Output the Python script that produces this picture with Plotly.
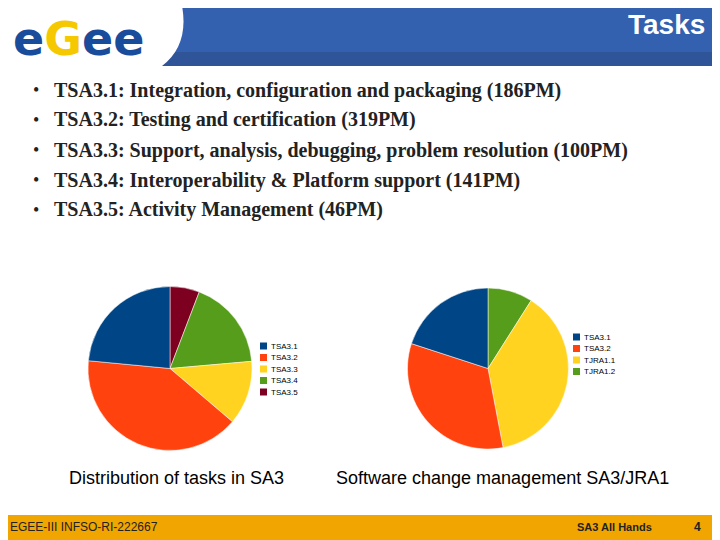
import plotly.graph_objects as go

# ----------- data ----------- ##
TASK_LABELS = ["TSA3.1", "TSA3.2", "TSA3.3", "TSA3.4", "TSA3.5"]
TASK_PM = [186, 319, 100, 141, 46]
TASK_TEXT = [
    "TSA3.1: Integration, configuration and packaging (186PM)",
    "TSA3.2: Testing and certification (319PM)",
    "TSA3.3: Support, analysis, debugging, problem resolution (100PM)",
    "TSA3.4: Interoperability & Platform support (141PM)",
    "TSA3.5: Activity Management (46PM)",
]
SCM_LABELS = ["TSA3.1", "TSA3.2", "TJRA1.1", "TJRA1.2"]
SCM_SHARE = [20, 33, 38, 9]

COLORS = ["#004586", "#FF420E", "#FFD320", "#579D1C", "#7E0021"]

W, H, OFF = 720, 540, 8  # page body margin shifts the plot by 8px


def px(x):
    return (x - OFF) / W


def py(y):
    return 1 - (y - OFF) / H


fig = go.Figure()

# reference slices run counterclockwise from 12 o'clock -> reversed order, clockwise
fig.add_trace(go.Pie(
    labels=TASK_LABELS[::-1], values=TASK_PM[::-1], sort=False, direction="clockwise",
    marker=dict(colors=COLORS[:5][::-1], line=dict(color="white", width=0.5)),
    textinfo="none", hoverinfo="label+value", showlegend=False,
    domain=dict(x=[px(88), px(252)], y=[py(451), py(286)]),
))
fig.add_trace(go.Pie(
    labels=SCM_LABELS[::-1], values=SCM_SHARE[::-1], sort=False, direction="clockwise",
    marker=dict(colors=COLORS[:4][::-1], line=dict(color="white", width=0.5)),
    textinfo="none", hoverinfo="label+percent", showlegend=False,
    domain=dict(x=[px(407), px(569)], y=[py(449), py(288)]),
))

shapes = [
    dict(type="rect", xref="paper", yref="paper", x0=-0.1, x1=1.1, y0=py(52), y1=1.1,
         fillcolor="#3460B0", line_width=0, layer="below"),
    dict(type="rect", xref="paper", yref="paper", x0=-0.1, x1=1.1, y0=py(66), y1=py(52),
         fillcolor="#2F5497", line_width=0, layer="below"),
    dict(type="path", xref="paper", yref="paper",
         path=f"M -0.1 1.1 L {px(162)} 1.1 Q {px(205)} {py(33)} {px(162)} {py(66)} L -0.1 {py(66)} Z",
         fillcolor="white", line_width=0, layer="below"),
    dict(type="rect", xref="paper", yref="paper", x0=-0.1, x1=1.1, y0=-0.1, y1=py(515),
         fillcolor="#F0A500", line_width=0, layer="below"),
]

ann = [
    dict(text="<b>e<span style='color:#F5C800'>G</span>ee</b>", x=px(11), y=py(39),
         font=dict(family="DejaVu Sans", size=46, color="#1A4C9C"), xanchor="left"),
    dict(text="<b>Tasks</b>", x=px(707), y=py(24), xanchor="right",
         font=dict(family="Liberation Sans", size=28, color="white")),
    dict(text="Distribution of tasks in SA3", x=px(176), y=py(478),
         font=dict(family="Liberation Sans", size=18, color="black")),
    dict(text="Software change management SA3/JRA1", x=px(502), y=py(478),
         font=dict(family="Liberation Sans", size=18, color="black")),
    dict(text="EGEE-III INFSO-RI-222667", x=px(8), y=py(527), xanchor="left",
         font=dict(family="Liberation Sans", size=12, color="#222")),
    dict(text="<b>SA3 All Hands</b>", x=px(614), y=py(527),
         font=dict(family="Liberation Sans", size=11, color="#222")),
    dict(text="<b>4</b>", x=px(697), y=py(527),
         font=dict(family="Liberation Sans", size=12, color="#222")),
]
for i, line in enumerate(TASK_TEXT):
    yy = py(90 + 30 * i)
    ann.append(dict(text="•", x=px(31), y=yy, xanchor="left",
                    font=dict(family="Liberation Serif", size=18, color="#222")))
    ann.append(dict(text="<b>" + line + "</b>", x=px(52), y=yy, xanchor="left",
                    font=dict(family="Liberation Serif", size=20, color="#222")))


# hand-drawn legends (two pies share labels, so plotly's legend would merge them)
def add_legend(labels, x0, y0):
    for i, lab in enumerate(labels):
        yc = y0 + 11.5 * i
        shapes.append(dict(type="rect", xref="paper", yref="paper",
                           x0=px(x0), x1=px(x0 + 7), y0=py(yc + 3.5), y1=py(yc - 3.5),
                           fillcolor=COLORS[i], line_width=0))
        ann.append(dict(text=lab, x=px(x0 + 9), y=py(yc), xanchor="left",
                        font=dict(family="Liberation Sans", size=8, color="black")))


add_legend(TASK_LABELS, 260, 346)
add_legend(SCM_LABELS, 573, 337)

for a in ann:
    a.setdefault("xanchor", "center")
    a["yanchor"] = "middle"
    a["showarrow"] = False
    a["xref"] = "paper"
    a["yref"] = "paper"

fig.update_layout(
    width=W, height=H, autosize=False, margin=dict(l=0, r=0, t=0, b=0),
    paper_bgcolor="white", plot_bgcolor="white",
    shapes=shapes, annotations=ann,
)

fig.write_html("out.html")
